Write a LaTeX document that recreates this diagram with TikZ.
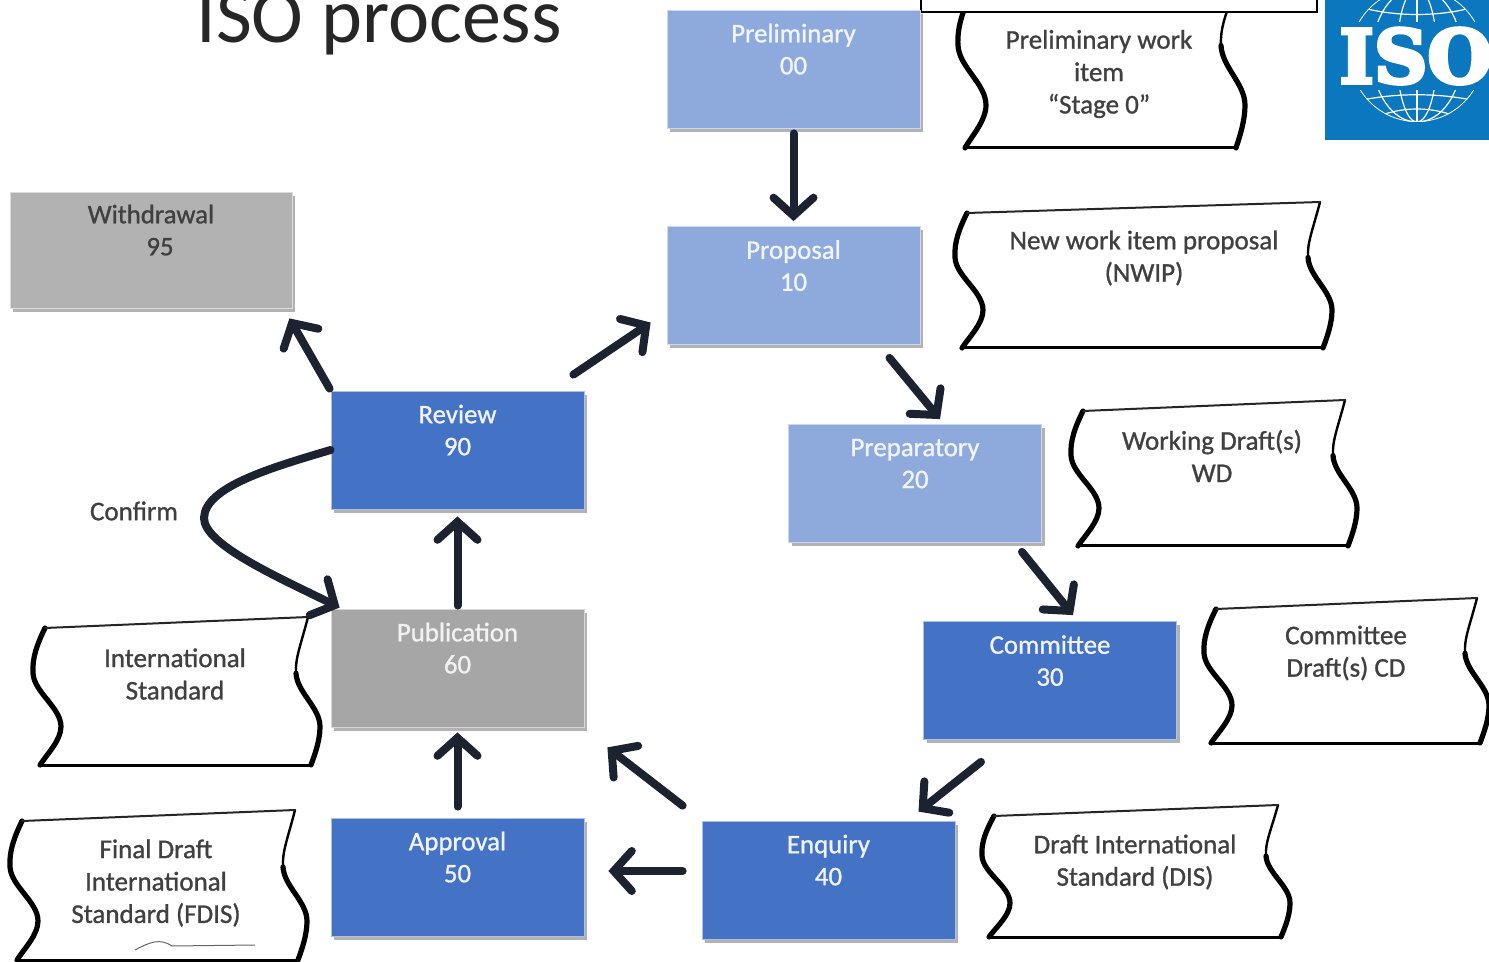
\documentclass[tikz,border=0pt]{standalone}
\usepackage{fontspec}
\setmainfont{Carlito}
\newfontfamily\heavyfont[FakeBold=1]{Carlito}
\newfontfamily\logofont[BoldFeatures={FakeBold=5}]{DejaVu Serif}
\usetikzlibrary{arrows.meta,shadows,calc}
\definecolor{lightbox}{HTML}{8EA9DB}
\definecolor{darkbox}{HTML}{4472C4}
\definecolor{greybox}{HTML}{A6A6A6}
\definecolor{withbox}{HTML}{B2B2B2}
\definecolor{arrowcol}{HTML}{1C2230}
\definecolor{textcol}{HTML}{404040}
\definecolor{isoblue}{HTML}{0B77BE}
\tikzset{
  stagebox/.style={minimum width=126.5pt,minimum height=59pt,inner sep=0pt,align=center,
    font=\heavyfont\fontsize{13.4}{16}\selectfont,line width=.4pt,
    drop shadow={shadow xshift=1.6pt,shadow yshift=-1.8pt,fill=black,opacity=.3}},
  lightstage/.style={stagebox,fill=lightbox,draw=lightbox!45!white,text=white!88!lightbox},
  darkstage/.style={stagebox,fill=darkbox,draw=darkbox!45!white,text=white!92!darkbox},
  greystage/.style={stagebox,fill=greybox,draw=greybox!45!white,text=white!85!greybox},
  withstage/.style={stagebox,fill=withbox,draw=withbox!45!white,minimum width=141pt,minimum height=58pt,text=textcol},
  papertext/.style={align=center,text=textcol,font=\heavyfont\fontsize{13.5}{16.2}\selectfont,inner sep=0pt},
  flow/.style={draw=arrowcol,line width=4pt,line cap=round,
    -{Straight Barb[length=9pt,width=20pt,line width=4pt,line cap=round]}},
  edgeA/.style={line width=2.6pt,black,line cap=round},
  edgeB/.style={line width=1.2pt,black,line cap=round},
  edgeBB/.style={line width=2.6pt,black,line cap=round},
  edgeBot/.style={line width=1.5pt,black,line cap=round},
  edgeC/.style={line width=1pt,black!85,line cap=round},
}
% left x, top y at left, top y at right, right x, bottom y
\newcommand{\wavypaper}[5]{%
  \pgfmathsetmacro{\hh}{#5-#2}
  \pgfmathsetmacro{\la}{#1+12}\pgfmathsetmacro{\lb}{#1+4}\pgfmathsetmacro{\lc}{#1-1}\pgfmathsetmacro{\ld}{#1}
  \pgfmathsetmacro{\le}{#1+1}\pgfmathsetmacro{\lf}{#1+28}\pgfmathsetmacro{\lg}{#1+28}
  \pgfmathsetmacro{\lh}{#1+28}\pgfmathsetmacro{\li}{#1+14}\pgfmathsetmacro{\lj}{#1+7}
  \pgfmathsetmacro{\ra}{#4-12}\pgfmathsetmacro{\rb}{#4-19}\pgfmathsetmacro{\rc}{#4-25}\pgfmathsetmacro{\rd}{#4-24}
  \pgfmathsetmacro{\re}{#4-23}\pgfmathsetmacro{\rf}{#4}\pgfmathsetmacro{\rg}{#4}
  \pgfmathsetmacro{\rh}{#4}\pgfmathsetmacro{\ri}{#4-5}\pgfmathsetmacro{\rj}{#4-9}
  \pgfmathsetmacro{\ya}{#2+.12*\hh}\pgfmathsetmacro{\yb}{#2+.22*\hh}\pgfmathsetmacro{\yc}{#2+.33*\hh}
  \pgfmathsetmacro{\yd}{#2+.47*\hh}\pgfmathsetmacro{\ye}{#2+.58*\hh}\pgfmathsetmacro{\yf}{#2+.72*\hh}
  \pgfmathsetmacro{\yg}{#2+.82*\hh}\pgfmathsetmacro{\yh}{#2+.92*\hh}
  \fill[white] (\la,#2) .. controls (\lb,\ya) and (\lc,\yb) .. (\ld,\yc) .. controls (\le,\yd) and (\lf,\ye) .. (\lg,\yf)
     .. controls (\lh,\yg) and (\li,\yh) .. (\lj,#5)
     -- (\rj,#5) .. controls (\ri,\yh) and (\rh,\yg) .. (\rg,\yf) .. controls (\rf,\ye) and (\re,\yd) .. (\rd,\yc)
     .. controls (\rc,\yb) and (\rb,\ya) .. (\ra,#3) -- cycle;
  \draw[edgeA] (\la,#2) .. controls (\lb,\ya) and (\lc,\yb) .. (\ld,\yc) .. controls (\le,\yd) and (\lf,\ye) .. (\lg,\yf)
     .. controls (\lh,\yg) and (\li,\yh) .. (\lj,#5);
  \draw[edgeB] (\ra,#3) .. controls (\rb,\ya) and (\rc,\yb) .. (\rd,\yc);
  \draw[edgeBB] (\rd,\yc) .. controls (\re,\yd) and (\rf,\ye) .. (\rg,\yf) .. controls (\rh,\yg) and (\ri,\yh) .. (\rj,#5);
  \draw[edgeBot] (\lj,#5) -- (\rj,#5);
  \draw[edgeC] (\la,#2) -- (\ra,#3);
}
\begin{document}
\begin{tikzpicture}[x=.5pt,y=-.5pt]
\useasboundingbox (0,0) rectangle (1489,962);
\clip (0,0) rectangle (1489,962);
\fill[white] (0,0) rectangle (1489,962);

% title
\node[anchor=base west,inner sep=0pt,text=black!85,font=\fontsize{39}{39}\selectfont] (title) at (196,43) {ISO process};

% logo
\fill[isoblue] (1325,-2) rectangle (1491,140);
\begin{scope}
  \clip (1417,55) circle (67);
  \draw[white,line width=.8pt] (1417,55) circle (67);
  \draw[white,line width=.6pt] (1417,55) circle [x radius=45,y radius=67];
  \draw[white,line width=.6pt] (1417,55) circle [x radius=20,y radius=67];
  \draw[white,line width=.6pt] (1417,-15) -- (1417,125);
  \draw[white,line width=.6pt] (1350,103) .. controls (1390,92) and (1444,92) .. (1484,103);
  \draw[white,line width=.6pt] (1375,118) .. controls (1400,106) and (1434,106) .. (1459,118);
  \draw[white,line width=.6pt] (1350,4) .. controls (1390,18) and (1444,18) .. (1484,4);
\end{scope}
\fill[isoblue] (1330,22) rectangle (1489,90);
\node[anchor=base west,inner sep=0pt,text=white,font=\logofont\bfseries\fontsize{37}{37}\selectfont] (isologo) at (1339,83) {ISO};

% wavy papers
\wavypaper{958}{-5}{-5}{1245}{148}
\wavypaper{955}{213}{202}{1332}{348}
\wavypaper{1071}{411}{400}{1357}{546}
\wavypaper{1204}{609}{598}{1489}{743}
\wavypaper{982}{816}{805}{1290}{937}
\wavypaper{33}{628}{617}{320}{765}
\wavypaper{10}{821}{810}{307}{960}
\draw[black!60,line width=.5pt] (135,950) .. controls (150,942) and (160,938) .. (172,946) -- (255,945);

\node[papertext] (t00) at (1099,74) {Preliminary work\\item\\“Stage 0”};
\node[papertext] (t10) at (1144,258) {New work item proposal\\(NWIP)};
\node[papertext] (t20) at (1212,456) {Working Draft(s)\\WD};
\node[papertext] (t30) at (1346,653) {Committee\\Draft(s) CD};
\node[papertext] (t40) at (1135,862) {Draft International\\Standard (DIS)};
\node[papertext] (t60) at (175,674) {International\\Standard};
\node[papertext] (t50) at (156,883) {Final Draft\\International\\Standard (FDIS)};

% white box at the top
\draw[black,line width=.6pt,fill=white] (921,-5) rectangle (1317,12);

% stages
\node[lightstage] (prelim) at (793.5,69) {Preliminary\\00\\[4pt]\mbox{}};
\node[lightstage] (prop) at (793.5,285.5) {Proposal\\10\\[4pt]\mbox{}};
\node[lightstage] (prep) at (915,483.5) {Preparatory\\20\\[4pt]\mbox{}};
\node[darkstage] (comm) at (1050,680.5) {Committee\\30\\[4pt]\mbox{}};
\node[darkstage] (enq) at (828.5,880) {Enquiry\\40\\[4pt]\mbox{}};
\node[darkstage] (appr) at (457.5,877) {Approval\\50\\[4pt]\mbox{}};
\node[greystage] (pub) at (457.5,668) {Publication\\60\\[4pt]\mbox{}};
\node[darkstage] (rev) at (457.5,450) {Review\\90\\[4pt]\mbox{}};
\node[withstage] (with) at (151,250) {Withdrawal\\\hspace*{9pt}95\\[4pt]\mbox{}};

% connectors
\draw[flow] ($(prelim.south)+(0,5)$) -- ($(prop.north)+(0,-5)$);
\draw[flow] ($(prop.south)+(96,13)$) -- ($(prep.north)+(25,-5)$);
\draw[flow] ($(prep.south)+(107,9)$) -- ($(comm.north)+(23,-6)$);
\draw[flow] ($(comm.south)+(-69,22)$) -- ($(enq.north)+(90,-9)$);
\draw[flow] ($(enq.west)+(-19,-9)$) -- ($(appr.east)+(24,-6)$);
\draw[flow] ($(enq.north west)+(-19,-15)$) -- ($(pub.south east)+(23,20)$);
\draw[flow] ($(appr.north)+(0,-11)$) -- ($(pub.south)+(0,5)$);
\draw[flow] ($(pub.north)+(0,-3)$) -- ($(rev.south)+(0,7)$);
\draw[flow] ($(rev.north west)+(-1,-2)$) -- ($(with.south east)+(-3,10)$);
\draw[flow] ($(rev.north east)+(-11,-16)$) -- ($(prop.west)+(-16,37)$);
\draw[flow] (rev.west) .. controls (270,468) and (205,487) .. (204,518)
   .. controls (204,545) and (280,578) .. ($(pub.north west)+(9,-1)$);

\node[text=textcol,inner sep=0pt,font=\heavyfont\fontsize{13.5}{16}\selectfont] (confirm) at (134,511) {Confirm};
\end{tikzpicture}
\end{document}
